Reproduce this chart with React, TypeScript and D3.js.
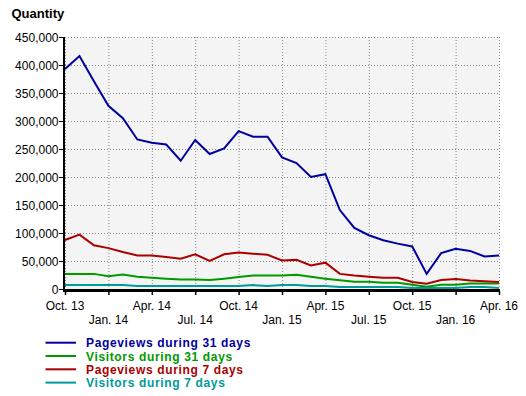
import React from "react";
import * as d3 from "d3";

// monthly samples, Oct. 13 .. Apr. 16
const months = [
  "2013-10", "2013-11", "2013-12", "2014-01", "2014-02", "2014-03", "2014-04",
  "2014-05", "2014-06", "2014-07", "2014-08", "2014-09", "2014-10", "2014-11",
  "2014-12", "2015-01", "2015-02", "2015-03", "2015-04", "2015-05", "2015-06",
  "2015-07", "2015-08", "2015-09", "2015-10", "2015-11", "2015-12", "2016-01",
  "2016-02", "2016-03", "2016-04",
];

const pageviews31 = [
  393000, 416000, 371000, 327000, 305000, 267000, 261000, 258000, 229000, 266000,
  241000, 251000, 282000, 272000, 272000, 235000, 225000, 200000, 205000, 141000,
  109000, 96000, 87000, 81000, 76000, 27000, 64000, 72000, 68000, 58000, 60000,
];
const visitors31 = [
  27000, 27000, 27000, 23000, 26000, 22000, 20000, 18500, 17000, 17000,
  16000, 18500, 21500, 24000, 24000, 24000, 25500, 22000, 18500, 15500,
  13000, 13000, 11000, 11000, 7500, 4000, 7500, 7500, 10000, 10000, 10000,
];
const pageviews7 = [
  87500, 97000, 78000, 73000, 66000, 60000, 60000, 57000, 54000, 62000,
  50000, 62000, 65000, 63000, 61000, 51000, 52000, 42000, 47000, 27000,
  24000, 22000, 20000, 20000, 12500, 9500, 16000, 18000, 15000, 14000, 12500,
];
const visitors7 = [
  7000, 7000, 7000, 7000, 7000, 5500, 5500, 5500, 5500, 5500,
  5500, 5500, 5500, 7000, 5500, 7000, 7000, 5500, 5500, 3500,
  3500, 3500, 3500, 3500, 2000, 2000, 2000, 2000, 3500, 3500, 2000,
];

const tickLabels = [
  "Oct. 13", "Jan. 14", "Apr. 14", "Jul. 14", "Oct. 14", "Jan. 15",
  "Apr. 15", "Jul. 15", "Oct. 15", "Jan. 16", "Apr. 16",
];

const series = [
  { name: "Pageviews during 31 days", values: pageviews31, color: "#0000a0" },
  { name: "Visitors during 31 days", values: visitors31, color: "#009900" },
  { name: "Pageviews during 7 days", values: pageviews7, color: "#aa0000" },
  { name: "Visitors during 7 days", values: visitors7, color: "#009a9a" },
];

const W = 526;
const H = 396;
const FONT = "'Liberation Sans', Arial, sans-serif";

export default function App() {
  const x = d3.scaleLinear().domain([0, months.length - 1]).range([65, 499]);
  const y = d3.scaleLinear().domain([0, 450000]).range([289, 37]);
  const yTicks = d3.range(0, 450001, 50000);
  const fmt = d3.format(",");

  const line = d3
    .line<number>()
    .x((_, i) => x(i))
    .y((d) => y(d));

  return (
    <svg
      width={W}
      height={H}
      style={{ position: "absolute", left: 0, top: 0, background: "#fff" }}
      fontFamily={FONT}
    >
      <text x={11.5} y={18} fontSize={13} fontWeight="bold" fill="#000">
        Quantity
      </text>

      {/* plot background */}
      <rect x={x(0)} y={y(450000)} width={x(30) - x(0)} height={y(0) - y(450000)} fill="#f4f4f4" />

      {/* grid */}
      {yTicks.map((t) => (
        <line key={"gy" + t} x1={x(0)} x2={x(30)} y1={y(t) + 0.5} y2={y(t) + 0.5}
          stroke="#888" strokeDasharray="1,2" />
      ))}
      {tickLabels.map((_, k) => (
        <line key={"gx" + k} x1={x(k * 3) + 0.5} x2={x(k * 3) + 0.5} y1={y(450000)} y2={y(0)}
          stroke="#888" strokeDasharray="1,2" />
      ))}

      {/* series */}
      {series.map((s) => (
        <path key={s.name} d={line(s.values) ?? ""} fill="none" stroke={s.color} strokeWidth={2} />
      ))}

      {/* y axis */}
      <line x1={64} x2={64} y1={y(450000)} y2={y(0) + 3} stroke="#000" strokeWidth={2} />
      {yTicks.map((t) => (
        <g key={"yt" + t}>
          <line x1={59} x2={63} y1={y(t) + 0.5} y2={y(t) + 0.5} stroke="#000" />
          <text x={58.5} y={y(t) + 4.5} fontSize={12} textAnchor="end" fill="#000">
            {fmt(t)}
          </text>
        </g>
      ))}

      {/* x axis */}
      <line x1={63} x2={x(30) + 1} y1={290.5} y2={290.5} stroke="#000" strokeWidth={3} />
      {tickLabels.map((lab, k) => (
        <g key={"xt" + k}>
          <line x1={x(k * 3) + 0.5} x2={x(k * 3) + 0.5} y1={291} y2={295} stroke="#000" strokeWidth={1.5} />
          <text x={x(k * 3)} y={k % 2 === 0 ? 309.5 : 323.5} fontSize={12} textAnchor="middle" fill="#000">
            {lab}
          </text>
        </g>
      ))}

      {/* legend */}
      {series.map((s, i) => (
        <g key={"lg" + i} transform={`translate(0,${342.7 + i * 13.3})`}>
          <line x1={45.5} x2={76} y1={0} y2={0} stroke={s.color} strokeWidth={2} />
          <text x={86} y={4.5} fontSize={12} fontWeight="bold" fill={s.color} letterSpacing={0.65}>
            {s.name}
          </text>
        </g>
      ))}
    </svg>
  );
}
